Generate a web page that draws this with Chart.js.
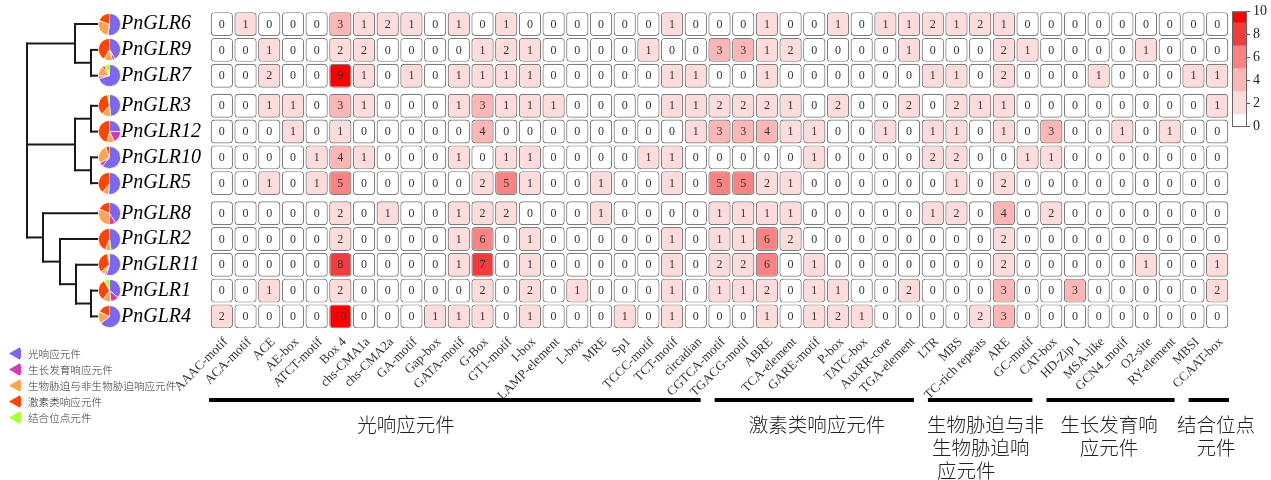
<!DOCTYPE html>
<html>
<head>
<meta charset="utf-8">
<script src="https://cdn.jsdelivr.net/npm/chart.js@4.4.0/dist/chart.umd.min.js"></script>
<style>
  html, body { margin: 0; padding: 0; background: #fff; }
  #wrap { position: relative; width: 1271px; height: 480px; overflow: hidden; }
  #wrap canvas { position: absolute; }
  .legend { position: absolute; left: 8px; top: 345px; font: 300 10.6px "Noto Sans CJK SC", sans-serif; color: #333; }
  .legend div { height: 16px; display: flex; align-items: center; }
  .legend svg { margin-right: 7px; }
  .glabel { position: absolute; top: 412px; font: 300 19.5px "Noto Sans CJK SC", sans-serif; color: #222;
            line-height: 23px; white-space: nowrap; }
  .glabel.c { text-align: center; transform: translateX(-50%); }
</style>
</head>
<body>
<div id="wrap">
  <canvas id="heat" width="1271" height="480" style="left:0;top:0"></canvas>
  <canvas id="scale" width="46" height="140" style="left:1225px;top:0"></canvas>
  <div class="legend" id="legend"></div>
  <div class="glabel c" style="left:406px">光响应元件</div>
  <div class="glabel c" style="left:817px">激素类响应元件</div>
  <div class="glabel" style="left:927px">生物胁迫与非<br><span style="padding-left:5px">生物胁迫响</span><br><span style="padding-left:10px">应元件</span></div>
  <div class="glabel c" style="left:1109px">生长发育响<br>应元件</div>
  <div class="glabel c" style="left:1216px">结合位点<br>元件</div>
</div>
<script>
// ---- data ----
const genes = ['PnGLR6','PnGLR9','PnGLR7','PnGLR3','PnGLR12','PnGLR10','PnGLR5','PnGLR8','PnGLR2','PnGLR11','PnGLR1','PnGLR4'];

const elements = ['AAAC-motif','ACA-motif','ACE','AE-box','ATCT-motif','Box 4','chs-CMA1a','chs-CMA2a','GA-motif','Gap-box',
  'GATA-motif','G-Box','GT1-motif','I-box','LAMP-element','L-box','MRE','Sp1','TCCC-motif','TCT-motif','circadian',
  'CGTCA-motif','TGACG-motif','ABRE','TCA-element','GARE-motif','P-box','TATC-box','AuxRR-core','TGA-element',
  'LTR','MBS','TC-rich repeats','ARE','GC-motif',
  'CAT-box','HD-Zip 1','MSA-like','GCN4_motif','O2-site','RY-element',
  'MBSI','CCAAT-box'];

// element counts per gene, in the column order above
const PnGLR6  = [0,1,0,0,0,3,1,2,1,0,1, 0,1,0,0,0,0,0,0,1,0, 0,0,1,0,0,1,0,1,1, 2,1,2,1,0, 0,0,0,0,0,0, 0,0];
const PnGLR9  = [0,0,1,0,0,2,2,0,0,0,0, 1,2,1,0,0,0,0,1,0,0, 3,3,1,2,0,0,0,0,1, 0,0,0,2,1, 0,0,0,0,1,0, 0,0];
const PnGLR7  = [0,0,2,0,0,9,1,0,1,0,1, 1,1,1,0,0,0,0,0,1,1, 0,0,1,0,0,0,0,0,0, 1,1,0,2,0, 0,0,1,0,0,0, 1,1];
const PnGLR3  = [0,0,1,1,0,3,1,0,0,0,1, 3,1,1,1,0,0,0,0,1,1, 2,2,2,1,0,2,0,0,2, 0,2,1,1,0, 0,0,0,0,0,0, 0,1];
const PnGLR12 = [0,0,0,1,0,1,0,0,0,0,0, 4,0,0,0,0,0,0,0,0,1, 3,3,4,1,1,0,0,1,0, 1,1,0,1,0, 3,0,0,1,0,1, 0,0];
const PnGLR10 = [0,0,0,0,1,4,1,0,0,0,1, 0,1,1,0,0,0,0,1,1,0, 0,0,0,0,1,0,0,0,0, 2,2,0,0,1, 1,0,0,0,0,0, 0,0];
const PnGLR5  = [0,0,1,0,1,5,0,0,0,0,0, 2,5,1,0,0,1,0,0,1,0, 5,5,2,1,0,0,0,0,0, 0,1,0,2,0, 0,0,0,0,0,0, 0,0];
const PnGLR8  = [0,0,0,0,0,2,0,1,0,0,1, 2,2,0,0,0,1,0,0,0,0, 1,1,1,1,0,0,0,0,0, 1,2,0,4,0, 2,0,0,0,0,0, 0,0];
const PnGLR2  = [0,0,0,0,0,2,0,0,0,0,1, 6,0,1,0,0,0,0,0,1,0, 1,1,6,2,0,0,0,0,0, 0,0,0,2,0, 0,0,0,0,0,0, 0,0];
const PnGLR11 = [0,0,0,0,0,8,0,0,0,0,1, 7,0,1,0,0,0,0,0,1,0, 2,2,6,0,1,0,0,0,0, 0,0,0,2,0, 0,0,0,0,1,0, 0,1];
const PnGLR1  = [0,0,1,0,0,2,0,0,0,0,0, 2,0,2,0,1,0,0,0,1,0, 1,1,2,0,1,1,0,0,2, 0,0,0,3,0, 0,3,0,0,0,0, 0,2];
const PnGLR4  = [2,0,0,0,0,10,0,0,0,1,1, 1,0,1,0,0,0,1,0,1,0, 0,0,1,0,1,2,1,0,0, 0,0,2,3,0, 0,0,0,0,0,0, 0,0];
const counts = [PnGLR6, PnGLR9, PnGLR7, PnGLR3, PnGLR12, PnGLR10, PnGLR5, PnGLR8, PnGLR2, PnGLR11, PnGLR1, PnGLR4];

// element classes, in column order, and how many columns each spans
const groupNames = ['光响应元件','激素类响应元件','生物胁迫与非生物胁迫响应元件','生长发育响应元件','结合位点元件'];
const groupSizes = [21, 9, 5, 6, 2];

// pie slice order (clockwise from 12 o'clock) and colours
const pieOrder  = ['光响应元件','生长发育响应元件','生物胁迫与非生物胁迫响应元件','激素类响应元件','结合位点元件'];
const pieColors = ['#7b68ee','#d63cb0','#fca54f','#ff4500','#adff2f'];

// colour scale bands
const bandBreaks = [0, 1, 3, 5, 7, 9, 10];
const bandColors = ['#ffffff','#ffdcdc','#fdb6b6','#f98282','#f23c3c','#ff0000'];
const scaleTicks = [0, 2, 4, 6, 8, 10];

// clustering tree (h = merge height)
const tree = { h: 8.3, c: [
  { h: 3.5, c: ['PnGLR6', { h: 1.9, c: ['PnGLR9', 'PnGLR7'] }] },
  { h: 3.5, c: [{ h: 1.9, c: ['PnGLR3', 'PnGLR12'] }, { h: 1.9, c: ['PnGLR10', 'PnGLR5'] }] },
  { h: 6.7, c: ['PnGLR8', { h: 5.0, c: ['PnGLR2', { h: 3.4, c: ['PnGLR11', { h: 1.9, c: ['PnGLR1', 'PnGLR4'] }] }] }] }
]};

// ---- helpers ----
const SERIF = '"Liberation Serif", "Times New Roman", serif';
const GAP = 0.17, HALF = 0.465;

function leaves(n) { return typeof n === 'string' ? [n] : n.c.flatMap(leaves); }
const clusterIndex = {};
tree.c.forEach((sub, k) => leaves(sub).forEach(g => { clusterIndex[g] = k; }));
const rowPos = genes.map((g, i) => i + GAP * clusterIndex[g]);

const colGroup = [];
groupSizes.forEach((n, k) => { for (let j = 0; j < n; j++) colGroup.push(k); });

function colorFor(v) {
  for (let k = 0; k < bandColors.length; k++) {
    if (v < bandBreaks[k + 1]) return bandColors[k];
  }
  return bandColors[bandColors.length - 1];
}

// ---- plugins ----
const cellText = {
  id: 'cellText',
  afterDatasetsDraw(chart) {
    const ctx = chart.ctx;
    ctx.save();
    ctx.font = '12px ' + SERIF;
    ctx.fillStyle = '#333';
    ctx.textAlign = 'center';
    ctx.textBaseline = 'middle';
    chart.data.datasets.forEach((ds, i) => {
      chart.getDatasetMeta(i).data.forEach((el, j) => {
        const p = el.getProps(['x', 'y', 'base'], true);
        ctx.fillText(String(counts[i][j]), p.x, (p.y + p.base) / 2 + 0.5);
      });
    });
    ctx.restore();
  }
};

const groupBars = {
  id: 'groupBars',
  afterDraw(chart) {
    const x = chart.scales.x, ctx = chart.ctx;
    const half = (x.getPixelForValue(1) - x.getPixelForValue(0)) / 2;
    const y = x.bottom;
    let start = 0;
    ctx.save();
    ctx.fillStyle = '#000';
    groupSizes.forEach((n, k) => {
      const end = start + n - 1;
      const l = x.getPixelForValue(start) - half + (k === 0 ? -1 : 7);
      const r = x.getPixelForValue(end) + half - (k === groupSizes.length - 1 ? 0 : 7);
      ctx.fillRect(l, y - 2, r - l, 4);
      start = end + 1;
    });
    ctx.restore();
  }
};

// ---- heatmap ----
const heat = new Chart(document.getElementById('heat'), {
  type: 'bar',
  data: {
    labels: elements,
    datasets: genes.map((g, i) => ({
      label: g,
      data: elements.map(() => [rowPos[i] - HALF, rowPos[i] + HALF]),
      grouped: false,
      backgroundColor: ctx => colorFor(counts[i][ctx.dataIndex]),
      borderColor: '#7d7d7d',
      borderWidth: 1.2,
      borderRadius: 4,
      borderSkipped: false,
      barPercentage: 0.94,
      categoryPercentage: 1
    }))
  },
  options: {
    responsive: false,
    animation: false,
    events: [],
    layout: { padding: { left: 121, top: 12, right: 42, bottom: 80 } },
    plugins: { legend: { display: false }, tooltip: { enabled: false } },
    scales: {
      x: {
        grid: { display: false, drawTicks: false },
        border: { display: false },
        ticks: { autoSkip: false, maxRotation: 45, minRotation: 45, padding: 6, labelOffset: 4, color: '#333',
                 font: { family: SERIF, size: 13 } },
        afterFit: s => { s.height = 71.5; }
      },
      y: {
        type: 'linear',
        reverse: true,
        min: rowPos[0] - HALF - 0.005,
        max: rowPos[rowPos.length - 1] + HALF + 0.005,
        grid: { display: false, drawTicks: false },
        border: { display: false },
        afterBuildTicks: s => { s.ticks = rowPos.map(v => ({ value: v })); },
        ticks: { crossAlign: 'far', padding: 0, color: '#000',
                 font: { family: SERIF, size: 20, style: 'italic' },
                 callback: (v, i) => genes[i] },
        afterFit: s => { s.width = 89; }
      }
    }
  },
  plugins: [cellText, groupBars]
});

// ---- clustering tree ----
const wrap = document.getElementById('wrap');
const area = heat.chartArea;
const segs = [];
function place(n) {
  if (typeof n === 'string') return { h: 0, y: rowPos[genes.indexOf(n)] };
  const kids = n.c.map(place);
  const y0 = kids[0].y, y1 = kids[kids.length - 1].y;
  segs.push([{ x: n.h, y: y0 }, { x: n.h, y: y1 }]);
  kids.forEach(k => segs.push([{ x: k.h, y: k.y }, { x: n.h, y: k.y }]));
  return { h: n.h, y: (y0 + y1) / 2 };
}
place(tree);

const treeCanvas = document.createElement('canvas');
treeCanvas.width = 110; treeCanvas.height = 480;
treeCanvas.style.left = '0px'; treeCanvas.style.top = '0px';
wrap.insertBefore(treeCanvas, wrap.firstChild.nextSibling);
new Chart(treeCanvas, {
  type: 'scatter',
  data: { datasets: segs.map(s => ({
    data: s, showLine: true, borderColor: '#1a1a1a', borderWidth: 2, pointRadius: 0,
    borderCapStyle: 'square', clip: false
  })) },
  options: {
    responsive: false, animation: false, events: [],
    layout: { padding: { left: 0, right: 0, top: area.top, bottom: 480 - area.bottom } },
    plugins: { legend: { display: false }, tooltip: { enabled: false } },
    scales: {
      x: { type: 'linear', display: false, reverse: true, min: 0, max: 11 },
      y: { type: 'linear', display: false, reverse: true,
           min: heat.scales.y.min, max: heat.scales.y.max }
    }
  }
});

// ---- pies of element classes ----
const ys = heat.scales.y;
const PIE = 23;
genes.forEach((g, i) => {
  const sums = groupNames.map(() => 0);
  counts[i].forEach((v, j) => { sums[colGroup[j]] += v; });
  const values = pieOrder.map(name => sums[groupNames.indexOf(name)]);
  const c = document.createElement('canvas');
  c.width = PIE; c.height = PIE;
  c.style.left = (109 - PIE / 2) + 'px';
  c.style.top = (ys.getPixelForValue(rowPos[i]) - PIE / 2) + 'px';
  wrap.appendChild(c);
  new Chart(c, {
    type: 'pie',
    data: { labels: pieOrder, datasets: [{ data: values, backgroundColor: pieColors,
            borderColor: '#ffffff', borderWidth: 0.8 }] },
    options: { responsive: false, animation: false, events: [],
               layout: { padding: 0 },
               plugins: { legend: { display: false }, tooltip: { enabled: false } } }
  });
});

// ---- legend of element classes ----
const legend = document.getElementById('legend');
pieOrder.forEach((name, k) => {
  const row = document.createElement('div');
  row.innerHTML = '<svg width="13" height="13" viewBox="0 0 13 13"><path d="M1,6.5 L11.8,0.3 A12.4,12.4 0 0 1 11.8,12.7 Z" fill="' +
    pieColors[k] + '"/></svg><span>' + name + '</span>';
  legend.appendChild(row);
});

// ---- colour scale ----
const boxOutline = {
  id: 'boxOutline',
  afterDatasetsDraw(chart) {
    const a = chart.chartArea, ctx = chart.ctx;
    ctx.save();
    ctx.strokeStyle = '#666';
    ctx.lineWidth = 1;
    ctx.strokeRect(a.left + 0.5, a.top + 0.5, a.right - a.left - 1, a.bottom - a.top);
    ctx.restore();
  }
};
new Chart(document.getElementById('scale'), {
  type: 'bar',
  data: {
    labels: [''],
    datasets: bandColors.map((col, k) => ({
      data: [bandBreaks[k + 1] - bandBreaks[k]],
      backgroundColor: col, borderWidth: 0, barPercentage: 1, categoryPercentage: 1
    }))
  },
  options: {
    responsive: false, animation: false, events: [],
    layout: { padding: { left: 7, top: 10, bottom: 14, right: 0 } },
    plugins: { legend: { display: false }, tooltip: { enabled: false } },
    scales: {
      x: { stacked: true, display: false },
      y: {
        stacked: true, position: 'right', min: 0, max: 10,
        afterBuildTicks: s => { s.ticks = scaleTicks.map(v => ({ value: v })); },
        grid: { drawOnChartArea: false, tickLength: 3, tickColor: '#555' },
        border: { display: false },
        ticks: { padding: 3, color: '#222', font: { family: SERIF, size: 14 } },
        afterFit: s => { s.width = 24; }
      }
    }
  },
  plugins: [boxOutline]
});
</script>
</body>
</html>
